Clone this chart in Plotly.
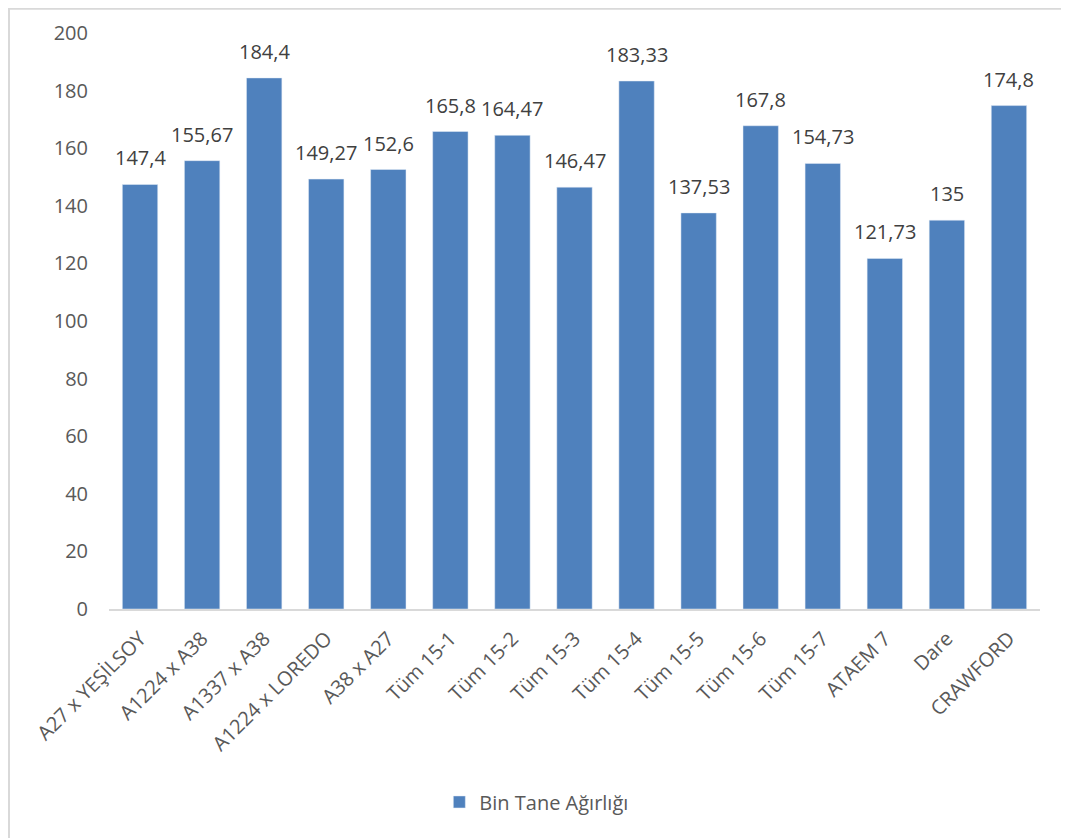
"""Bin Tane Ağırlığı bar chart."""

import plotly.graph_objects as go

CATEGORIES = ['A27 x YEŞİLSOY', 'A1224 x A38', 'A1337 x A38', 'A1224 x LOREDO', 'A38 x A27',
              'Tüm 15-1', 'Tüm 15-2', 'Tüm 15-3', 'Tüm 15-4', 'Tüm 15-5', 'Tüm 15-6',
              'Tüm 15-7', 'ATAEM 7', 'Dare', 'CRAWFORD']
VALUES = [147.4, 155.67, 184.4, 149.27, 152.6, 165.8, 164.47, 146.47, 183.33, 137.53,
          167.8, 154.73, 121.73, 135, 174.8]
Y_TICKS = list(range(0, 201, 20))

BLUE = '#4F81BD'
TEXT = '#595959'
LINE = '#D9D9D9'
FONT = 'Open Sans, Liberation Sans, sans-serif'


def label(v):
    return f'{v:g}'.replace('.', ',')


fig = go.Figure()
fig.add_trace(go.Bar(
    x=CATEGORIES, y=VALUES, name='Bin Tane Ağırlığı',
    marker=dict(color=BLUE),
))

# value labels above bars
for cat, v in zip(CATEGORIES, VALUES):
    fig.add_annotation(x=cat, y=v, text=label(v), showarrow=False,
                       yanchor='bottom', yshift=11,
                       font=dict(size=20, color='#404040', family=FONT))

# page body has an 8px margin, margins below compensate for it
fig.update_layout(
    width=1069, height=838,
    margin=dict(l=101, r=37, t=25, b=237, autoexpand=False),
    paper_bgcolor='white', plot_bgcolor='white',
    font=dict(family=FONT, size=20, color=TEXT),
    bargap=0.43,
    showlegend=True,
    legend=dict(orientation='h', x=0.459, xanchor='center', y=-0.335, yanchor='middle',
                font=dict(size=20, color=TEXT)),
    xaxis=dict(tickangle=-45, showline=True, linecolor=LINE, linewidth=2, automargin=False,
               showgrid=False, ticks='', ticklabelstandoff=8,
               tickfont=dict(size=20, color=TEXT)),
    yaxis=dict(range=[0, 200], tickvals=Y_TICKS, showgrid=False, zeroline=False,
               automargin=False, showline=False, ticks='', ticklen=0, ticklabelstandoff=20,
               tickfont=dict(size=20, color=TEXT)),
    shapes=[dict(type='rect', xref='paper', yref='paper',
                 x0=-0.1074, x1=1.028, y0=-0.6, y1=1.042,
                 line=dict(color=LINE, width=2), layer='below')],
)

fig.write_html('out.html')
